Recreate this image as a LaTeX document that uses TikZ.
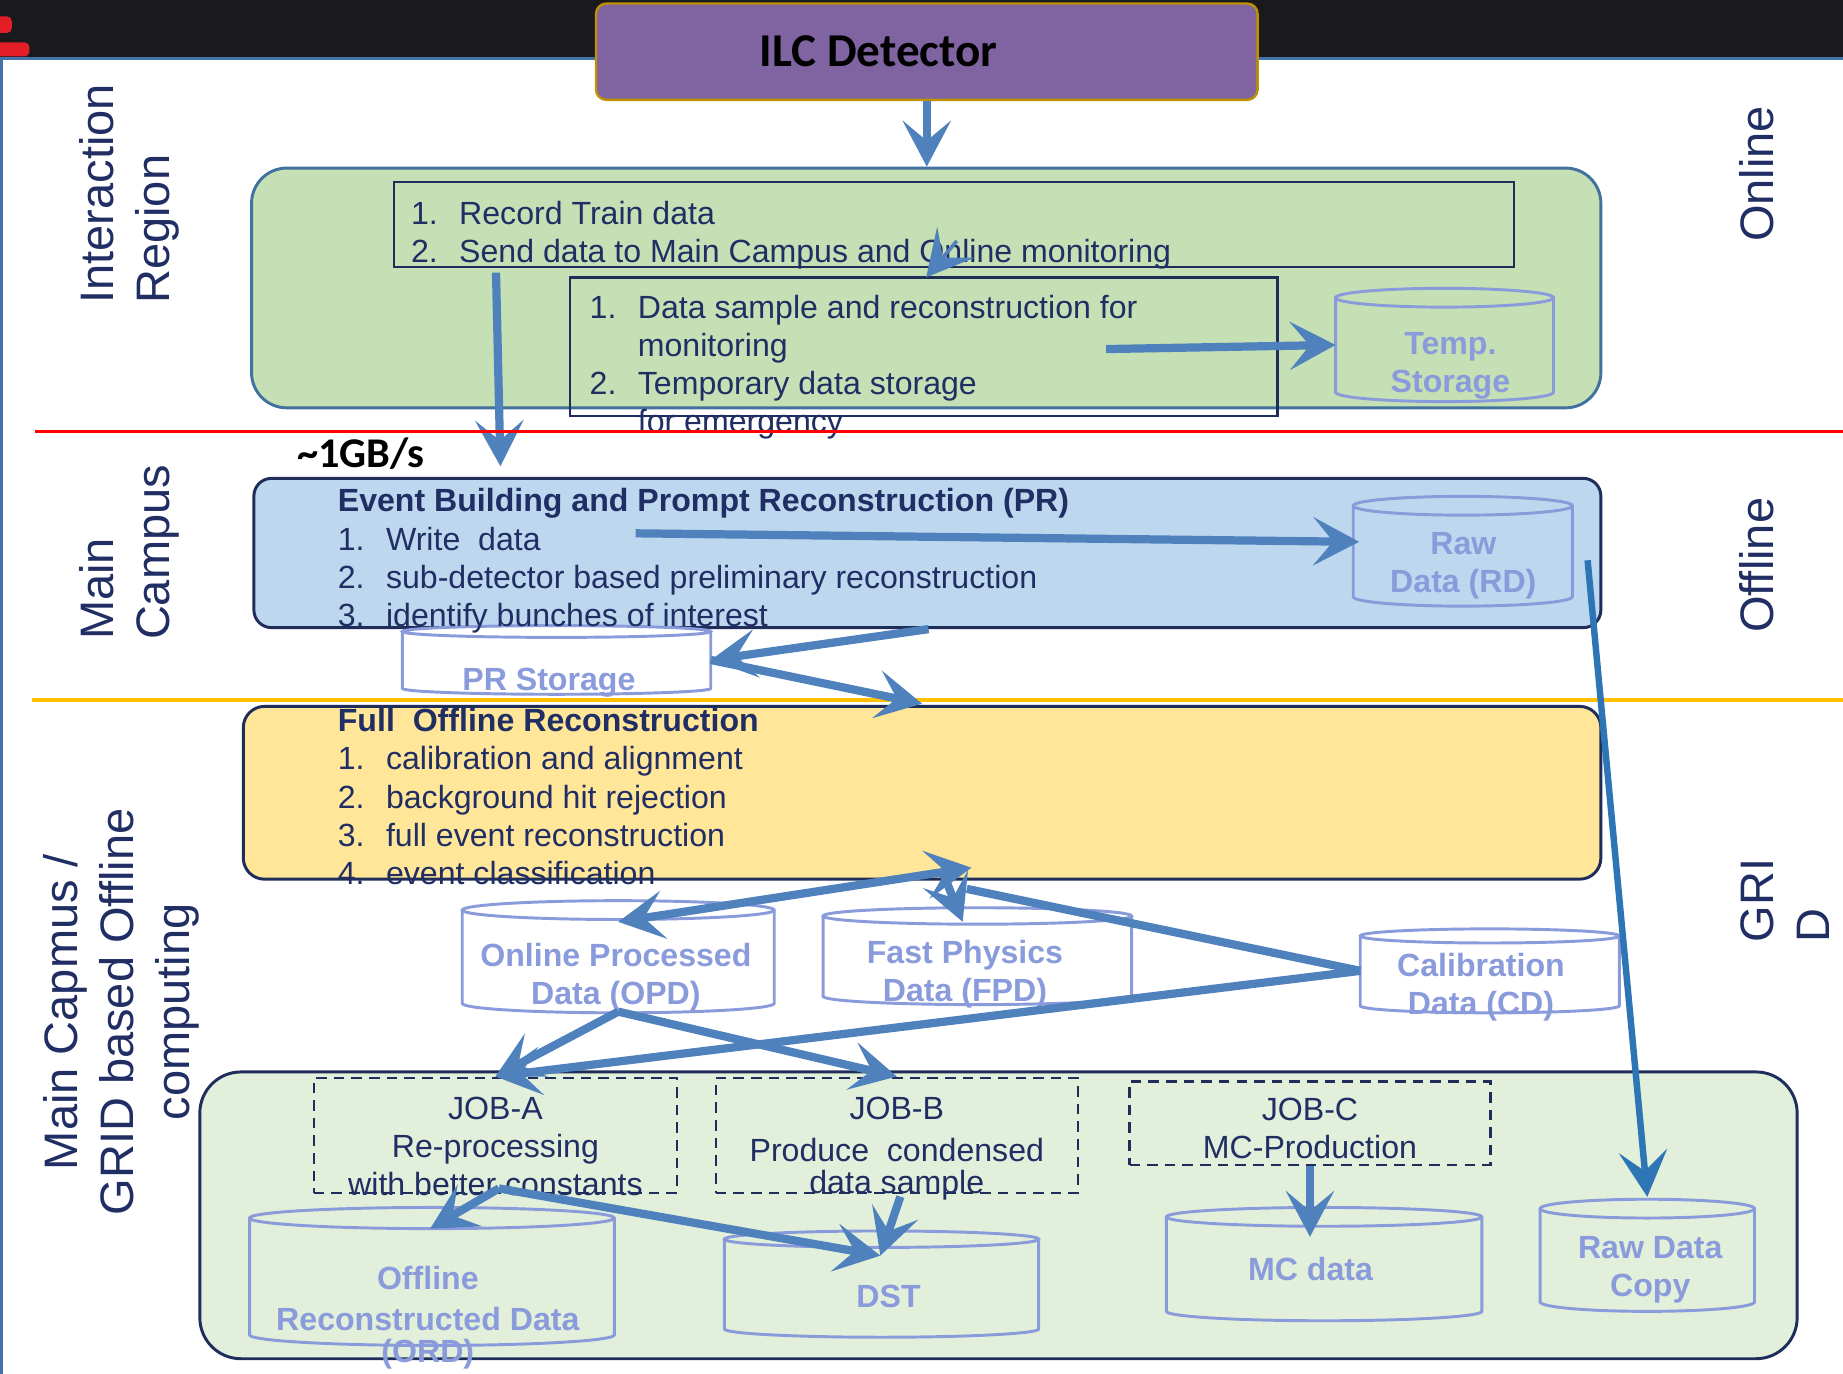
\documentclass[tikz,border=0pt]{standalone}
\usepackage{fontspec}
\setmainfont{Liberation Sans}
\newfontfamily\calfont{Carlito}
\usetikzlibrary{arrows.meta,calc}

\definecolor{txtnavy}{RGB}{32,46,100}
\definecolor{boxnavy}{RGB}{31,45,90}
\definecolor{arrowblue}{RGB}{79,129,189}
\definecolor{longblue}{RGB}{46,117,182}
\definecolor{dbblue}{RGB}{138,155,220}
\definecolor{irgreen}{RGB}{197,224,180}
\definecolor{irline}{RGB}{65,113,156}
\definecolor{ebblue}{RGB}{189,215,238}
\definecolor{foyellow}{RGB}{255,230,153}
\definecolor{gdgreen}{RGB}{226,239,218}
\definecolor{detpurple}{RGB}{128,100,162}
\definecolor{detgold}{RGB}{191,144,0}
\definecolor{bandblack}{RGB}{26,26,28}
\definecolor{markred}{RGB}{228,30,38}
\definecolor{sepgold}{RGB}{255,192,0}
\definecolor{framesteel}{RGB}{68,114,170}

\newcommand\listfont{\fontsize{7.77pt}{9.25pt}\selectfont}
\newcommand\sidefont{\fontsize{11.38pt}{13.66pt}\selectfont}
\newcommand\itm[2]{\makebox[4.1mm][l]{#1}#2}

\tikzset{
  panel/.style={draw=boxnavy, line width=0.25mm, rounded corners=#1, inner sep=0pt},
  inbox/.style={draw=boxnavy, line width=0.2mm, inner sep=0pt},
  jobbox/.style={draw=boxnavy, line width=0.22mm, dash pattern=on 0.9mm off 0.6mm, inner sep=0pt},
  detbox/.style={fill=detpurple, draw=detgold, line width=0.2mm, rounded corners=0.9mm,
    font=\calfont\bfseries\fontsize{11.4pt}{13pt}\selectfont, text=black, inner sep=0pt},
  dbnode/.style={inner sep=0pt},
  dbline/.style={draw=dbblue, line width=0.25mm},
  boxtext/.style={font=\listfont, text=txtnavy, inner sep=0pt, align=left, anchor=north west},
  jobtext/.style={font=\listfont, text=txtnavy, inner sep=0pt, align=center, anchor=north},
  dbtext/.style={font=\listfont\bfseries, text=dbblue, inner sep=0pt, align=center, anchor=north},
  sidelabel/.style={font=\sidefont, text=txtnavy, rotate=90, inner sep=0pt, align=left},
  flowarrow/.style={->, draw=arrowblue, line width=0.7mm},
  flowline/.style={draw=arrowblue, line width=0.7mm},
  longarrow/.style={->, draw=longblue, line width=0.55mm}
}

\begin{document}
\begin{tikzpicture}[x=0.1mm,y=-0.1mm,>={Stealth[length=3.9mm,width=4.1mm,inset=1.7mm]}]
\fill[white] (0,0) rectangle (1568,1169);
\useasboundingbox (0,0) rectangle (1568,1169);
% slide frame
\fill[bandblack] (0,0) rectangle (1568,49);
\fill[markred,rounded corners=0.4mm] (-5,14) rectangle (10,28) (-5,36) rectangle (25,48);
\draw[framesteel,line width=0.25mm] (0,49.5) -- (1568,49.5) (1,49.5) -- (1,1169);

% boxes
\node[detbox,minimum width=56.3mm,minimum height=8.2mm] (det) at (788.5,44) {ILC Detector\hspace*{8.2mm}};
\node[panel=3mm,draw=irline,fill=irgreen,minimum width=114.8mm,minimum height=20.4mm] (ir) at (788,245) {};
\node[inbox,minimum width=95.3mm,minimum height=7.2mm] (rec) at (811.5,191) {};
\node[inbox,minimum width=60.2mm,minimum height=11.8mm] (mon) at (786,295) {};
\node[panel=1.5mm,fill=ebblue,minimum width=114.6mm,minimum height=12.7mm] (eb) at (789,470.5) {};
\node[panel=1.8mm,fill=foyellow,minimum width=115.5mm,minimum height=14.7mm] (fo) at (784.5,674.5) {};
\node[panel=3.5mm,fill=gdgreen,minimum width=135.9mm,minimum height=24.4mm] (gd) at (849.5,1034) {};
\node[jobbox,minimum width=30.9mm,minimum height=9.8mm] (joba) at (421.5,966) {};
\node[jobbox,minimum width=30.8mm,minimum height=9.8mm] (jobb) at (763,966) {};
\node[jobbox,minimum width=30.7mm,minimum height=7.1mm] (jobc) at (1114.5,955.5) {};

% storages
\node[dbnode,minimum width=18.4mm,minimum height=7.9mm] (temp) at (1229,293.5) {};
\node[dbnode,minimum width=18.5mm,minimum height=7.6mm] (rd) at (1244.5,469) {};
\node[dbnode,minimum width=26.1mm,minimum height=4.7mm] (pr) at (473.5,561.5) {};
\node[dbnode,minimum width=26.4mm,minimum height=7.8mm] (opd) at (526,814) {};
\node[dbnode,minimum width=26.1mm,minimum height=6.7mm] (fpd) at (831.5,813.5) {};
\node[dbnode,minimum width=21.9mm,minimum height=5.8mm] (cd) at (1267.5,826) {};
\node[dbnode,minimum width=30.9mm,minimum height=9.8mm] (ord) at (367.5,1086) {};
\node[dbnode,minimum width=26.6mm,minimum height=7.5mm] (dst) at (750,1092.5) {};
\node[dbnode,minimum width=26.7mm,minimum height=7.9mm] (mc) at (1126.5,1075.5) {};
\node[dbnode,minimum width=18.1mm,minimum height=7.8mm] (rdc) at (1401.5,1068) {};
\foreach \s/\ry/\fc in {temp/8/none,rd/8/none,pr/5/white,opd/8/none,fpd/7/none,cd/6/none,ord/9/none,dst/7/none,mc/8/none,rdc/8/none}{
  \path[fill=\fc] let \p1=(\s.north west),\p2=(\s.north east) in
    (\s.north west) -- (\s.south west) arc[start angle=180,end angle=360,x radius={(\x2-\x1)/2},y radius=\ry*0.1mm]
    -- (\s.north east) arc[start angle=0,end angle=180,x radius={(\x2-\x1)/2},y radius=\ry*0.1mm] -- cycle;
  \draw[dbline] let \p1=(\s.north west),\p2=(\s.north east) in
    (\s.north) ellipse[x radius={(\x2-\x1)/2},y radius=\ry*0.1mm]
    (\s.north west) -- (\s.south west) arc[start angle=180,end angle=360,x radius={(\x2-\x1)/2},y radius=\ry*0.1mm] -- (\s.north east);
}

% texts
\node[boxtext] (rectxt) at ($(rec.north west)+(15,13.25)$) {\strut\itm{1.}{Record Train data}\\\itm{2.}{Send data to Main Campus and Online monitoring}};
\node[boxtext] (montxt) at ($(mon.north west)+(17,12.25)$) {\strut\itm{1.}{Data sample and reconstruction for}\\\itm{}{monitoring}\\\itm{2.}{Temporary data storage}\\\itm{}{for emergency}};
\node[boxtext] (ebtxt) at ($(eb.north west)+(72,6.25)$) {\strut\textbf{Event Building and Prompt Reconstruction (PR)}\\\itm{1.}{Write\ \ data}\\\itm{2.}{sub-detector based preliminary reconstruction}\\\itm{3.}{identify bunches of interest}};
\node[boxtext] (fotxt) at ($(fo.north west)+(81,-0.75)$) {\strut\textbf{Full\ \ Offline Reconstruction}\\\itm{1.}{calibration and alignment}\\\itm{2.}{background hit rejection}\\\itm{3.}{full event reconstruction}\\\itm{4.}{event classification}};
\node[jobtext] (jobatxt) at ($(joba.north)+(0,13)$) {\strut JOB-A\\Re-processing\\with better constants};
\node[jobtext] (jobbtxt) at ($(jobb.north)+(0,13)$) {\strut JOB-B\\[0.3mm]Produce\ \ condensed\\[-0.5mm]data sample};
\node[jobtext] (jobctxt) at ($(jobc.north)+(0,11)$) {\strut JOB-C\\MC-Production};

\node[dbtext] (temptxt) at (1234,278) {\strut Temp.\\Storage};
\node[dbtext] (rdtxt) at (1245,448) {\strut Raw\\Data (RD)};
\node[dbtext] (prtxt) at (467,564) {\strut PR Storage};
\node[dbtext] (opdtxt) at (524,799) {\strut Online Processed\\Data (OPD)};
\node[dbtext] (fpdtxt) at (821,796) {\strut Fast Physics\\Data (FPD)};
\node[dbtext] (cdtxt) at (1260,807) {\strut Calibration\\Data (CD)};
\node[dbtext] (ordtxt) at (364,1074) {\strut Offline\\[0.2mm]Reconstructed Data\\[-0.5mm](ORD)};
\node[dbtext] (dsttxt) at (756,1089) {\strut DST};
\node[dbtext] (mctxt) at (1115,1066) {\strut MC data};
\node[dbtext] (rdctxt) at (1404,1047) {\strut Raw Data\\Copy};

\node[font=\calfont\bfseries\fontsize{10.25pt}{12pt}\selectfont,inner sep=0pt,anchor=base west] (rate) at (252,398) {\textasciitilde 1GB/s};

\node[sidelabel] (irlab) at (111,165) {\strut Interaction\\Region\strut};
\node[sidelabel] (mclab) at (111,470) {\strut Main\\Campus\strut};
\node[sidelabel,align=center] (gridlab) at (104,861) {\strut Main Capmus /\\GRID based Offline\\computing\strut};
\node[sidelabel] (onlab) at (1499,148) {\strut Online};
\node[sidelabel] (offlab) at (1499,481) {\strut Offline};
\node[sidelabel] (gridr) at (1523,766) {\strut GRI\\D\strut};

\draw[sepgold,line width=0.3mm] (27,595.5) -- (1568,595.5);

% data flow
\draw[flowarrow] (det.south) -- (det.south |- ir.north);
\draw[flowarrow] ($(rec.south west)+(88,4)$) -- ($(eb.north west)+(211,-9)$);
\draw[flowarrow,line width=0.3mm] ($(rec.south west)+(480,-23)$) -- ($(mon.north)+(2,1)$);
\draw[flowarrow] ($(mon.north west)+(457,62)$) -- (temp.west);
\draw[flowarrow] ($(eb.north west)+(326,48)$) -- ($(rd.west)+(5,-8)$);
\draw[longarrow] ($(rd.south east)+(13,-31)$) -- ($(rdc.north)+(0,-10)$);
\draw[flowarrow] ($(eb.south)+(1,0)$) -- (pr.east);
\draw[flowarrow] (pr.east) -- ($(fo.north)+(0,-1)$);
\draw[flowarrow,<->] ($(opd.north)+(0,10)$) -- ($(fo.south)+(42,-11)$);
\draw[flowarrow] ($(fo.south)+(18,-6)$) -- ($(fpd.north)+(-12.5,5)$);
\draw[flowline] (cd.west) -- ($(fo.south)+(38,7)$);
\draw[flowarrow] (cd.west) -- (joba.north);
\draw[flowarrow] ($(opd.south)+(0,7)$) -- (joba.north);
\draw[flowarrow] ($(opd.south)+(0,7)$) -- (jobb.north);
\draw[flowarrow] ($(joba.south)+(3,-5)$) -- ($(ord.north)+(-1.5,9)$);
\draw[flowarrow] ($(joba.south)+(3,-5)$) -- ($(dst.north)+(-1,14)$);
\draw[flowarrow] ($(jobb.south)+(3,2)$) -- ($(dst.north)+(-1,14)$);
\draw[flowarrow] (jobc.south) -- ($(jobc.south |- mc.north)+(0,17)$);

\draw[red,line width=0.3mm] (30,367) -- (1568,367);
\end{tikzpicture}
\end{document}
